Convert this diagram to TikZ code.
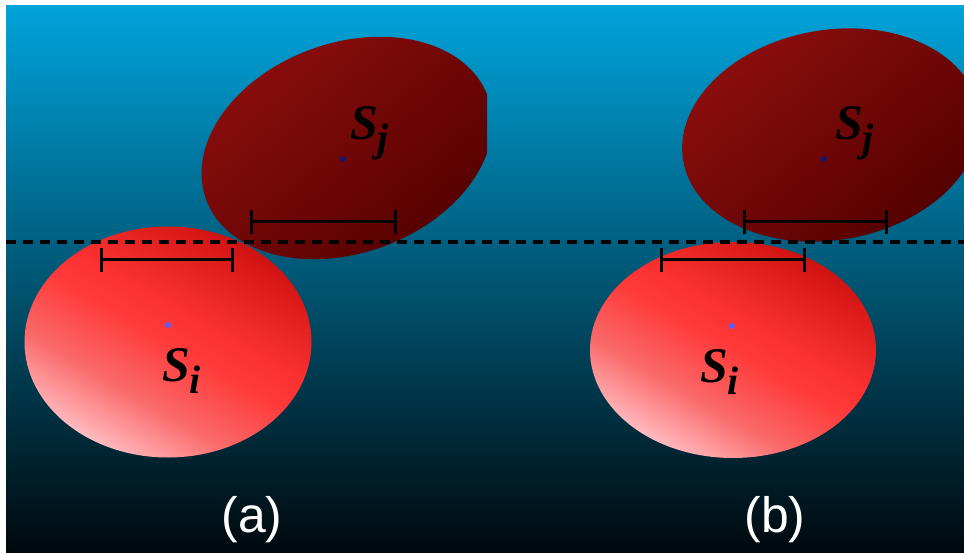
\documentclass[tikz,border=0pt]{standalone}
\usepackage{fontspec}
\setmainfont{Liberation Serif}
\newfontfamily\capfont{Liberation Sans}
\usetikzlibrary{shapes.geometric,arrows.meta}

\definecolor{bgtop}{RGB}{0,163,218}
\definecolor{bgmid}{RGB}{0,86,112}
\definecolor{bgbot}{RGB}{0,6,10}
\definecolor{jlight}{RGB}{142,14,14}
\definecolor{jdark}{RGB}{82,0,0}
\definecolor{ipink}{RGB}{255,202,207}
\definecolor{ipinkb}{RGB}{255,175,180}
\definecolor{isalmon}{RGB}{250,105,105}
\definecolor{ired}{RGB}{255,58,58}
\definecolor{iredb}{RGB}{252,48,48}
\definecolor{iredc}{RGB}{235,40,40}
\definecolor{iredd}{RGB}{215,22,22}
\definecolor{idark}{RGB}{198,16,16}
\definecolor{jdot}{RGB}{22,22,110}
\definecolor{idot}{RGB}{92,92,255}

\pgfdeclareverticalshading{redcell}{100bp}{color(0bp)=(ipink); color(24bp)=(ipink); color(27bp)=(ipinkb); color(37.5bp)=(isalmon); color(50bp)=(ired); color(56.5bp)=(iredb); color(62.5bp)=(iredc); color(72bp)=(iredd); color(76bp)=(idark); color(100bp)=(idark)}

\newcommand{\cellname}[2]{\fontsize{50}{50}\selectfont\bfseries\itshape #1\raisebox{-12pt}{\fontsize{40}{40}\selectfont #2}}

\tikzset{
  cellj/.style={ellipse, inner sep=0pt, shading=axis, top color=jlight, bottom color=jdark, shading angle=40},
  celli/.style={ellipse, inner sep=0pt, shade, shading=redcell, shading angle=-30},
  centre/.style={circle, inner sep=0pt, minimum size=6bp},
  gap/.style={line width=3bp, {Bar[width=24bp]}-{Bar[width=24bp]}},
  celllabel/.style={anchor=base west, inner sep=0pt},
  caption/.style={text=white, font=\capfont\fontsize{50}{50}\selectfont}
}

\begin{document}
\begin{tikzpicture}[x=1bp, y=-1bp]
    % Page and background
    \fill[white] (0,0) rectangle (964,556);
    \shade[top color=bgtop, middle color=bgmid, bottom color=bgbot] (6,6) rectangle (972,560);

    % (a) upper cell, cut off on its right side
    \begin{scope}
        \clip (6,6) rectangle (487,556);
        \node[cellj, minimum width=300bp, minimum height=210bp, rotate=20] (ja) at (347,148) {};
    \end{scope}
    % (a) lower cell
    \node[celli, minimum width=287bp, minimum height=231bp] (ia) at (168,342) {};

    % (b) cells
    \begin{scope}
        \clip (6,6) rectangle (972,556);
        \node[cellj, minimum width=300bp, minimum height=210bp, rotate=10] (jb) at (831,135) {};
    \end{scope}
    \node[celli, minimum width=286bp, minimum height=216bp] (ib) at (733,350) {};

    % Centres and names
    \node[centre, fill=jdot] (dja) at (343,159) {};
    \node[centre, fill=idot] (dia) at (168,325) {};
    \node[centre, fill=jdot] (djb) at (824,159) {};
    \node[centre, fill=idot] (dib) at (732,326) {};
    \node[celllabel] (sja) at (350,140) {\cellname{S}{j}};
    \node[celllabel] (sia) at (162,382) {\cellname{S}{i}};
    \node[celllabel] (sjb) at (835,140) {\cellname{S}{j}};
    \node[celllabel] (sib) at (700,383) {\cellname{S}{i}};

    % Bars
    \coordinate (la1) at (100,260);
    \coordinate (la2) at (234,260);
    \coordinate (ua1) at (250,222);
    \coordinate (ua2) at (397,222);
    \coordinate (lb1) at (660,260);
    \coordinate (lb2) at (806,260);
    \coordinate (ub1) at (743,222);
    \coordinate (ub2) at (888,222);
    \draw[gap] (la1) -- (la2);
    \draw[gap] (ua1) -- (ua2);
    \draw[gap] (lb1) -- (lb2);
    \draw[gap] (ub1) -- (ub2);

    % Dashed level
    \coordinate (ll) at (6,242);
    \coordinate (lr) at (972,242);
    \draw[line width=4bp, dash pattern=on 10bp off 7bp] (ll) -- (lr);

    % Captions
    \node[caption] (capa) at (252,520) {(a)};
    \node[caption] (capb) at (775,520) {(b)};

    % Page size
    \pgfresetboundingbox
    \useasboundingbox (0,0) rectangle (964,553);
\end{tikzpicture}
\end{document}
